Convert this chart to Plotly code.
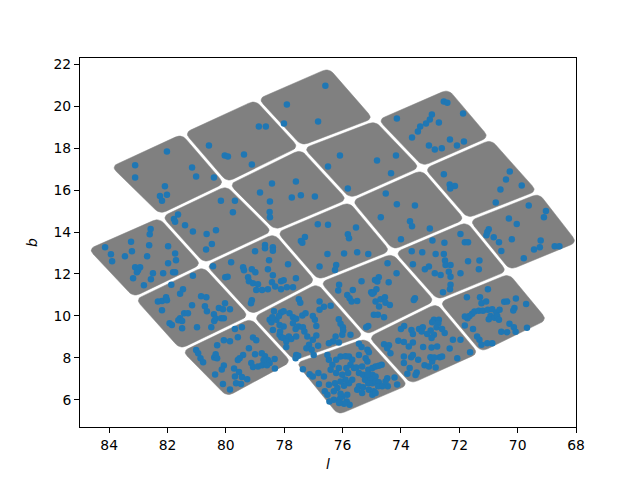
import numpy as np
import plotly.graph_objects as go

# ---------------- data ----------------
# Corner grid of the CCD modules in galactic coordinates (deg).
# Row k is grid line b = k-1 (k = 0..5), column m is grid line a = m-1 (m = 0..5).
# Module (i, j) has corners  L=J[j][i], T=J[j][i+1], R=J[j+1][i+1], B=J[j+1][i].
grid_l = [
    [None, 84.02, 81.50, 78.98, 76.46, None],
    [84.80, 82.27, 79.97, 77.42, 74.87, 72.36],
    [83.18, 80.76, 78.33, 75.76, 73.27, 70.90],
    [81.58, 79.13, 76.85, 74.28, 71.73, 69.25],
    [79.97, 77.68, 75.19, 72.76, 70.28, 67.88],
    [None, 76.17, 73.67, 71.26, 68.91, None],
]
grid_b = [
    [None, 17.14, 18.76, 20.38, 21.91, None],
    [13.21, 14.76, 16.29, 18.03, 19.38, 20.90],
    [10.81, 12.43, 14.01, 15.52, 17.05, 18.50],
    [8.33, 9.97, 11.63, 13.06, 14.57, 15.93],
    [6.06, 7.79, 9.01, 10.68, 12.10, 13.48],
    [None, 5.19, 6.67, 8.19, 9.79, None],
]
module_i = [1, 2, 3, 0, 1, 2, 3, 4, 0, 1, 2, 3, 4, 0, 1, 2, 3, 4, 1, 2, 3]
module_j = [0, 0, 0, 1, 1, 1, 1, 1, 2, 2, 2, 2, 2, 3, 3, 3, 3, 3, 4, 4, 4]

# targets (blue points), grouped by sky region
grp_l = [
    [82.02, 83.11, 83.11, 81.16, 81.02, 80.41, 82.09, 82.26, 82.02, 82.19],
    [80.58, 80.04, 79.93, 79.38, 79.11, 78.87, 78.63],
    [77.91, 78.01, 76.84, 76.59],
    [80.17, 79.69, 79.76, 81.64, 81.78, 81.74, 81.40, 81.13, 80.66, 80.34, 82.58, 82.61],
    [78.83, 78.42, 77.60, 78.49, 77.74, 77.43, 76.95, 78.50, 78.49, 76.85, 77.29],
    [76.09, 76.50, 74.82, 74.17, 74.34, 75.82],
    [72.53, 72.41, 74.14, 71.87, 72.94, 73.01, 73.14, 73.34, 73.42, 73.62, 72.70, 72.32,
     71.84, 72.08, 72.60, 72.84, 73.04],
    [72.53, 70.27, 70.40, 69.86, 72.33, 72.15, 72.31, 70.59, 70.75],
    [74.52, 74.14, 73.52, 74.69, 73.69, 73.62, 73.01, 74.00, 75.82, 75.78, 75.54, 76.50, 71.96],
    [69.62, 69.03, 69.10, 70.30, 70.03, 70.99, 71.04, 71.07, 70.82, 70.20],
    [84.14, 83.94, 83.90, 83.46, 83.22, 83.25, 82.63, 82.70, 81.98, 81.74, 81.71, 81.98,
     83.11, 82.94, 83.01, 83.05, 82.50, 82.15, 81.81, 81.74, 83.18, 82.57, 82.81],
    [80.68, 80.48, 77.43, 77.38, 76.79],
    [78.66, 78.66, 78.39, 78.39, 79.00, 80.44, 79.82, 78.52, 77.87, 79.41, 79.38, 79.11,
     78.99, 78.56, 78.39, 79.24, 79.21, 79.07, 78.90, 78.96, 78.76, 78.56, 78.42, 78.31,
     78.11, 78.11, 77.91, 77.70, 78.02, 77.60, 80.02, 79.94, 79.11, 79.14],
    [81.13, 81.47, 81.57, 81.87, 82.19, 82.05, 82.02, 82.33, 82.19, 81.16, 80.85, 80.67,
     80.72, 80.65, 81.43, 81.30, 81.57, 81.63, 81.50, 80.41, 80.24, 80.03, 80.10, 79.86,
     80.40, 80.35, 80.16, 80.07, 81.93, 81.85, 81.50, 80.99, 80.50],
    [79.69, 79.45, 80.07, 79.86, 79.59, 80.30, 81.02, 80.95, 80.87, 80.78, 80.40, 80.35,
     80.30, 79.07, 78.96, 79.21, 79.41, 79.53, 79.59, 78.77, 78.66, 78.56, 78.71, 78.50,
     78.33, 79.00, 79.13, 79.07, 78.90, 78.76, 78.59, 78.32, 80.37, 80.07, 80.14, 79.72,
     79.55, 79.69, 79.45, 79.27, 80.10, 79.86, 79.65, 79.48],
    [77.50, 77.45, 76.79, 76.64, 78.35, 78.11, 78.02, 77.82, 77.70, 77.59, 77.38, 77.27,
     78.50, 78.44, 78.27, 78.41, 78.16, 78.39, 78.02, 77.70, 77.51, 77.61, 77.36, 77.31,
     78.16, 78.10, 78.02, 77.84, 77.76, 77.93, 77.59, 77.21, 76.90, 77.02, 77.15, 77.24,
     77.06, 76.84, 76.99, 77.59, 77.61, 77.52, 77.93, 78.14, 76.95, 76.90, 77.02, 76.79, 78.18],
    [77.36, 77.13, 77.02, 76.83, 76.64, 76.81, 76.61],
    [76.52, 75.95, 75.50, 75.12, 76.22, 76.26],
    [73.63, 73.27, 73.59, 73.18, 73.04, 72.81, 72.53, 72.49, 72.47, 72.30, 72.36, 72.84,
     72.64, 72.30, 71.96, 71.70, 71.31, 71.33, 72.30, 72.32, 72.56, 72.92, 72.51, 71.81, 71.70],
    [70.64, 70.56, 69.79, 69.44, 69.24, 69.21, 68.73, 68.57],
    [76.12, 76.15, 75.84, 75.76, 75.69, 75.50, 75.65, 75.35, 75.02, 74.93, 74.84, 74.89,
     74.76, 74.81, 74.42, 74.15, 74.46, 74.98, 74.87, 74.70, 74.55, 74.53, 74.75, 74.93,
     74.79, 74.58, 74.38, 73.52, 73.56, 75.12, 75.19],
    [76.41, 76.13, 76.07, 75.99, 75.98, 76.01, 76.24, 76.33, 76.13, 75.73, 76.47],
    [71.02, 71.74, 71.29, 71.24, 71.08, 70.46, 70.36, 70.06, 70.11, 70.15, 69.71, 71.56,
     71.65, 71.72, 71.81, 71.48, 71.33, 71.19, 71.02, 70.87, 70.73, 70.62, 70.93, 70.99,
     70.79, 70.70, 70.64, 70.28, 70.13, 70.07, 70.36, 70.56, 69.68, 71.81, 71.53, 71.31,
     71.24, 71.04, 70.87, 71.39],
    [73.89, 74.00, 73.64, 73.38, 73.25, 73.29, 73.59, 72.98, 72.87, 72.93, 72.70, 72.72,
     72.78, 72.59, 72.50, 72.87, 73.10, 72.95, 74.09, 74.58, 74.41, 74.47, 74.36, 73.90,
     73.59, 73.73, 73.24, 72.95, 72.76, 72.22, 71.96, 72.33, 71.63, 73.90, 73.65, 73.59,
     73.90, 73.70, 73.46, 73.78, 73.50, 73.19, 73.04, 72.93, 72.81, 72.67, 72.59, 72.07,
     72.99, 72.86, 73.41],
    [76.07, 75.90, 75.78, 75.67, 75.73, 75.87, 76.13, 76.35, 76.41, 76.22, 76.01, 75.81,
     75.61, 75.53, 75.44, 75.30, 75.23, 75.15, 75.10, 75.21, 75.15, 75.44, 75.33, 75.12,
     74.98, 74.87, 74.76, 74.66, 74.98, 74.87, 75.04, 75.12, 74.98, 74.87, 74.76, 74.47,
     74.22, 74.45, 74.13, 75.10, 74.93, 74.98, 74.87, 75.44, 75.50, 75.30, 75.67, 75.78,
     75.95, 75.90, 76.07, 76.26, 76.18, 76.47, 76.30, 76.52, 76.30, 76.10, 76.01, 75.86,
     75.76, 75.95, 76.12, 76.45, 75.84, 76.07, 75.33, 75.15, 74.78, 75.44, 75.35, 76.47,
     76.52, 76.22, 74.64, 74.53],
]
grp_b = [
    [17.84, 17.18, 16.60, 17.08, 16.65, 16.60, 16.18, 15.72, 15.78, 15.49],
    [18.13, 17.65, 17.60, 17.70, 17.22, 19.03, 19.03],
    [20.08, 19.18, 19.27, 20.98],
    [15.49, 15.49, 14.94, 14.84, 14.62, 14.49, 14.32, 14.02, 13.90, 14.08, 14.14, 13.89],
    [15.89, 16.32, 16.41, 15.46, 15.65, 15.75, 15.70, 14.95, 14.70, 14.37, 13.76],
    [17.65, 17.13, 17.41, 17.65, 16.80, 16.08],
    [20.22, 20.17, 19.41, 19.65, 19.60, 19.37, 19.18, 19.03, 18.79, 18.51, 19.22, 18.41,
     18.32, 18.13, 18.00, 17.94, 18.13],
    [16.75, 16.89, 16.51, 16.22, 16.27, 16.19, 16.08, 16.03, 15.41],
    [15.84, 15.32, 15.27, 14.70, 14.51, 14.27, 14.17, 13.65, 13.89, 13.70, 14.22, 14.35, 13.91],
    [15.27, 15.00, 14.70, 14.65, 14.38, 14.13, 14.00, 13.84, 13.75, 13.65],
    [13.27, 12.94, 12.60, 12.84, 13.08, 13.54, 13.37, 12.84, 13.32, 12.98, 12.65, 12.51,
     12.32, 12.32, 12.18, 12.08, 12.03, 12.03, 12.08, 12.08, 11.79, 11.75, 11.46],
    [13.17, 13.43, 13.57, 13.49, 12.35],
    [13.38, 13.22, 13.27, 13.11, 13.08, 12.37, 12.56, 12.65, 12.46, 12.32, 12.18, 12.22,
     12.08, 12.22, 11.94, 11.84, 11.65, 11.56, 11.51, 11.24, 11.24, 11.27, 11.60, 11.40,
     11.27, 11.65, 11.37, 11.37, 11.70, 11.79, 11.84, 11.87, 10.75, 10.60],
    [11.92, 11.27, 11.05, 11.48, 10.71, 10.89, 10.75, 10.68, 10.27, 10.51, 10.94, 10.89,
     10.46, 10.22, 10.13, 10.13, 9.89, 9.79, 9.75, 10.08, 10.37, 10.60, 10.32, 10.32,
     9.75, 9.87, 9.89, 9.89, 9.65, 9.56, 9.41, 9.46, 9.46],
    [9.37, 9.46, 8.84, 8.79, 8.98, 8.60, 8.37, 8.22, 7.98, 7.79, 8.02, 8.17,
     7.98, 8.97, 8.84, 8.46, 8.14, 7.98, 7.89, 8.22, 8.08, 7.90, 7.90, 7.75,
     7.94, 8.17, 7.75, 7.56, 7.59, 7.65, 7.65, 7.49, 7.21, 7.63, 7.44, 7.49,
     7.32, 7.11, 7.08, 6.98, 6.75, 6.49, 6.79, 6.75],
    [10.79, 10.63, 10.68, 10.44, 10.22, 10.16, 10.22, 10.13, 9.94, 9.86, 10.02, 10.13,
     9.81, 9.70, 9.81, 9.94, 9.57, 9.33, 9.49, 9.65, 9.49, 9.37, 9.46, 9.25,
     9.10, 8.98, 8.94, 9.02, 8.90, 8.78, 9.02, 9.02, 9.06, 8.86, 8.62, 8.46,
     8.38, 8.57, 8.14, 8.14, 7.98, 8.10, 8.51, 9.25, 9.81, 9.52, 10.00, 10.29, 10.00],
    [7.46, 7.22, 7.11, 7.27, 7.11, 6.75, 6.40],
    [12.95, 12.98, 13.03, 12.95, 12.43, 12.19],
    [13.08, 13.03, 12.46, 12.22, 12.35, 12.95, 12.95, 12.64, 12.43, 12.43, 12.11, 12.03,
     11.95, 11.87, 12.03, 12.60, 12.64, 12.22, 11.48, 11.27, 11.13, 13.59, 13.49, 13.51, 13.51],
    [13.51, 13.10, 12.75, 13.17, 13.27, 13.59, 13.32, 13.32],
    [11.48, 11.21, 11.00, 10.84, 10.68, 10.71, 11.24, 11.65, 11.13, 11.11, 11.27, 11.71,
     11.84, 11.64, 11.60, 12.03, 12.51, 11.05, 10.68, 10.79, 10.89, 10.63, 10.45, 10.05,
     10.05, 9.94, 10.52, 10.84, 10.76, 9.52, 9.46],
    [10.48, 9.84, 9.62, 9.46, 9.30, 9.10, 9.02, 8.78, 8.73, 9.10, 8.70],
    [11.27, 10.89, 10.89, 10.60, 10.68, 10.67, 10.68, 10.83, 10.37, 10.26, 10.57, 10.10,
     10.00, 9.89, 9.97, 10.21, 10.25, 10.25, 10.29, 10.32, 10.16, 10.29, 10.00, 9.84,
     9.91, 10.00, 9.81, 9.62, 9.46, 9.24, 9.22, 9.24, 9.43, 9.54, 9.37, 8.86,
     8.62, 8.70, 8.70, 9.02],
    [9.52, 9.37, 9.33, 9.38, 9.46, 9.25, 9.14, 9.30, 9.81, 9.70, 9.81, 9.65,
     9.46, 9.37, 9.18, 9.10, 9.13, 8.94, 8.81, 8.65, 8.60, 8.46, 8.22, 8.76,
     8.73, 8.54, 8.51, 8.49, 8.54, 8.86, 8.86, 8.45, 8.27, 8.06, 8.03, 8.14,
     7.75, 7.51, 7.30, 7.24, 7.18, 7.64, 7.59, 7.83, 7.54, 8.03, 8.06, 7.98,
     8.03, 8.02, 7.91],
    [8.06, 8.08, 8.06, 7.91, 7.67, 7.51, 7.51, 7.67, 7.43, 7.27, 7.19, 7.27,
     7.51, 7.54, 7.27, 7.19, 6.95, 8.38, 8.26, 7.98, 7.83, 8.14, 7.59, 7.43,
     7.51, 7.59, 7.62, 7.67, 7.19, 7.11, 6.95, 6.79, 6.79, 6.87, 6.83, 7.03,
     7.06, 6.64, 6.73, 6.48, 6.40, 6.24, 6.32, 6.64, 6.48, 6.60, 6.95, 6.79,
     6.67, 6.95, 6.87, 6.79, 6.56, 6.71, 6.40, 6.24, 6.00, 6.03, 6.16, 5.92,
     5.76, 5.81, 5.84, 5.92, 6.24, 6.29, 6.32, 7.19, 6.64, 8.67, 8.51, 7.91,
     8.14, 7.91, 6.64, 6.87],
]

x_ticks = [84, 82, 80, 78, 76, 74, 72, 70, 68]
y_ticks = [6, 8, 10, 12, 14, 16, 18, 20, 22]

# ---------------- build ----------------
star_l, star_b = [], []
for gl, gb in zip(grp_l, grp_b):
    n = min(len(gl), len(gb))
    star_l += gl[:n]
    star_b += gb[:n]

SX, SY = 29.19, 21.0   # screen aspect, used only to shape gaps/rounding evenly


def module_outline(cl, cb, g=1.6, r=7.0, n=8):
    P = np.array([(-l * SX, b * SY) for l, b in zip(cl, cb)], dtype=float)
    cen = P.mean(axis=0)
    N = []
    for i in range(4):
        e = P[(i + 1) % 4] - P[i]
        e = e / np.linalg.norm(e)
        nrm = np.array([e[1], -e[0]])
        mid = 0.5 * (P[(i + 1) % 4] + P[i])
        if np.dot(nrm, cen - mid) < 0:
            nrm = -nrm
        N.append(nrm)
    Q = []
    for i in range(4):
        n1, n2 = N[i - 1], N[i]
        Q.append(P[i] + g * (n1 + n2) / (1 + np.dot(n1, n2)))
    Q = np.array(Q)
    xs, ys = [], []
    for i in range(4):
        p0, p1, p2 = Q[i - 1], Q[i], Q[(i + 1) % 4]
        a = p1 + r * (p0 - p1) / np.linalg.norm(p0 - p1)
        c = p1 + r * (p2 - p1) / np.linalg.norm(p2 - p1)
        for t in np.linspace(0, 1, n):
            q = (1 - t) ** 2 * a + 2 * (1 - t) * t * p1 + t ** 2 * c
            xs.append(-q[0] / SX)
            ys.append(q[1] / SY)
    xs.append(xs[0])
    ys.append(ys[0])
    return xs, ys


fig = go.Figure()
for i, j in zip(module_i, module_j):
    cl = [grid_l[j][i], grid_l[j][i + 1], grid_l[j + 1][i + 1], grid_l[j + 1][i]]
    cb = [grid_b[j][i], grid_b[j][i + 1], grid_b[j + 1][i + 1], grid_b[j + 1][i]]
    xs, ys = module_outline(cl, cb)
    fig.add_trace(go.Scatter(x=xs, y=ys, mode="lines", fill="toself",
                             fillcolor="#808080", line=dict(color="#808080", width=0.5),
                             hoverinfo="skip", showlegend=False))

fig.add_trace(go.Scatter(x=star_l, y=star_b, mode="markers",
                         marker=dict(color="#1f77b4", size=6.5, line=dict(width=0)),
                         showlegend=False))

font = dict(family="DejaVu Sans", size=13.9, color="black")
axis_common = dict(showgrid=False, zeroline=False, showline=True, mirror=True,
                   linecolor="black", linewidth=1, ticks="outside", ticklen=5,
                   tickwidth=1, tickcolor="black", tickfont=font, automargin=False)
fig.update_xaxes(range=[85, 68], tickvals=x_ticks, ticktext=[str(v) for v in x_ticks],
                 title=dict(text="<i>l</i>", font=font, standoff=11), **axis_common)
fig.update_yaxes(range=[4.70, 22.30], tickvals=y_ticks, ticktext=[str(v) for v in y_ticks],
                 title=dict(text="<i>b</i>", font=font, standoff=12), **axis_common)
# the page body adds an 8px margin, so the figure is sized/placed to compensate
fig.update_layout(width=624, height=464, margin=dict(l=72, r=56, t=50, b=45),
                  plot_bgcolor="white", paper_bgcolor="white", showlegend=False)
fig.write_html("out.html")
